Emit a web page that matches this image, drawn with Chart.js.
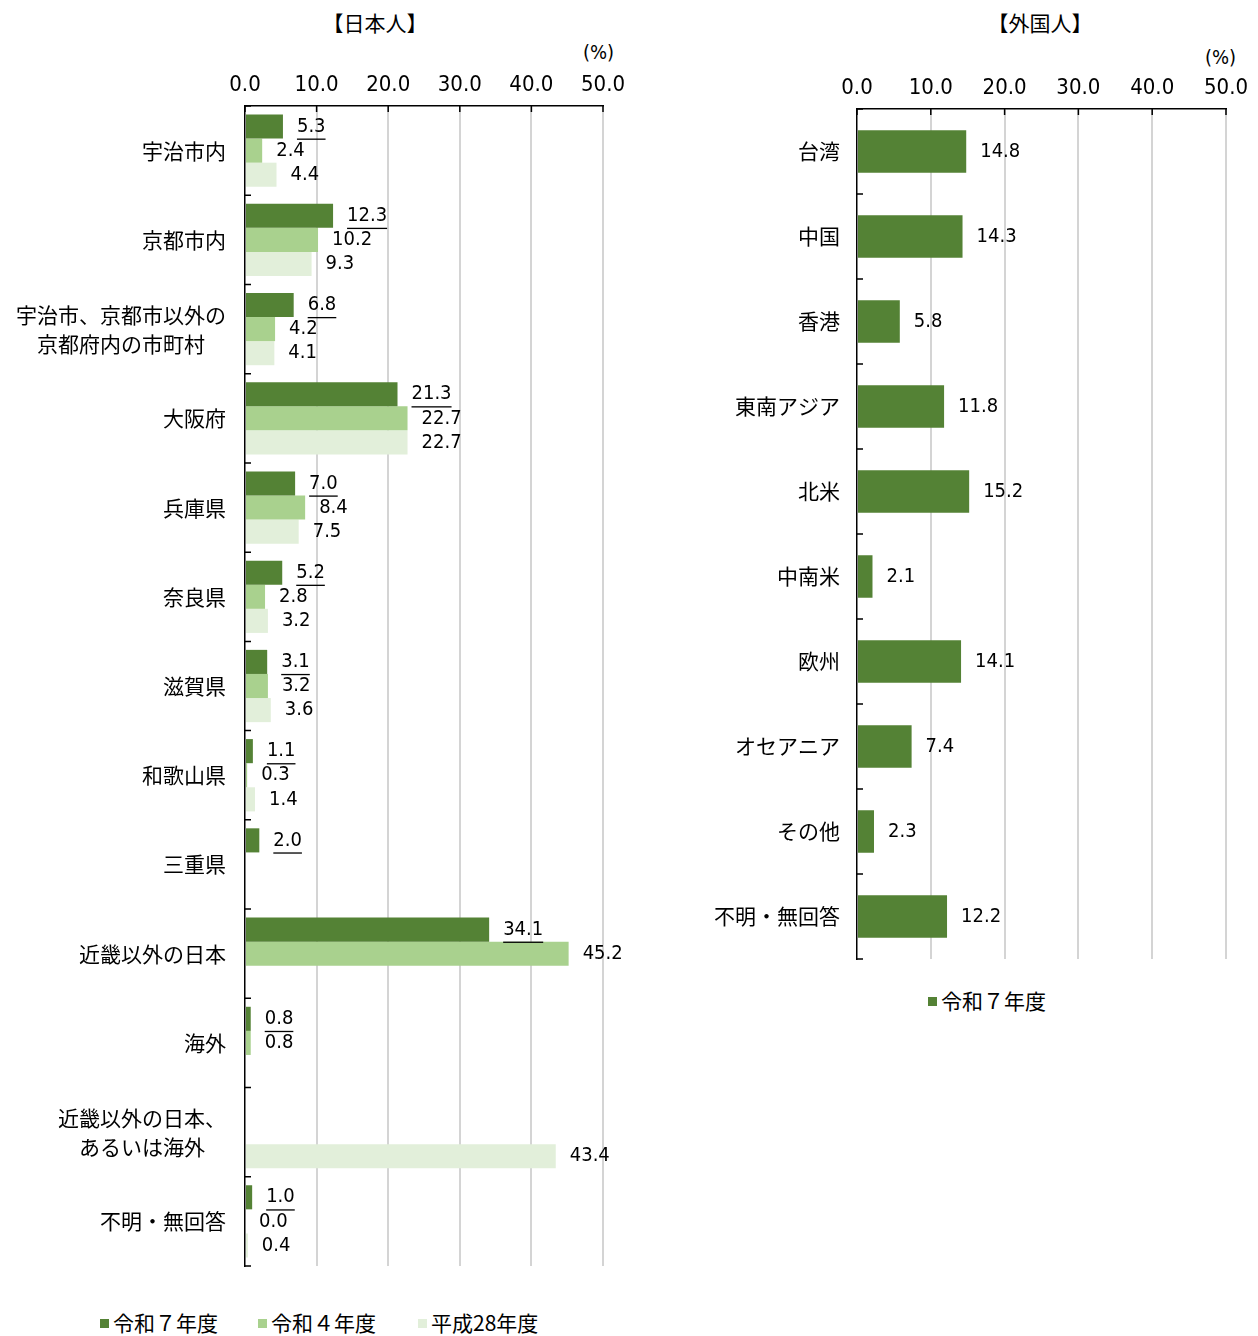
<!DOCTYPE html>
<html lang="ja">
<head>
<meta charset="utf-8">
<script src="https://cdn.jsdelivr.net/npm/chart.js@4.4.1/dist/chart.umd.min.js"></script>
<style>
body { margin:0; background:#fff; width:1258px; height:1336px; position:relative; overflow:hidden; font-family:'Noto Sans CJK JP', sans-serif; color:#000; }
.wrap { position:absolute; }
.ttl { position:absolute; font-size:21px; white-space:nowrap; transform:translate(-50%,-50%); }
.unit { position:absolute; font-size:20px; white-space:nowrap; transform:translateY(-50%); font-family:'Liberation Sans Narrow','DejaVu Sans Condensed','Noto Sans CJK JP',sans-serif; }
.legend { position:absolute; font-size:21px; white-space:nowrap; }
.legend span.item { position:absolute; transform:translateY(-50%); }
.legend i { display:inline-block; width:9px; height:9px; margin-right:4px; vertical-align:middle; position:relative; top:-2px; }
</style>
</head>
<body>
<div class="ttl" style="left:375px; top:22px;">【日本人】</div>
<div class="ttl" style="left:1040px; top:22px;">【外国人】</div>
<div class="unit" style="left:583px; top:52px;">(%)</div>
<div class="unit" style="left:1205px; top:57px;">(%)</div>

<div class="wrap" style="left:0; top:0; width:640px; height:1280px;"><canvas id="jpChart"></canvas></div>
<div class="wrap" style="left:710px; top:0; width:548px; height:972px;"><canvas id="fgChart"></canvas></div>

<div class="legend">
  <span class="item" style="left:100px; top:1322px;"><i style="background:#548235"></i>令和７年度</span>
  <span class="item" style="left:258px; top:1322px;"><i style="background:#A9D18E"></i>令和４年度</span>
  <span class="item" style="left:418px; top:1322px;"><i style="background:#E2EFDA"></i>平成28年度</span>
  <span class="item" style="left:928px; top:1000px;"><i style="background:#548235"></i>令和７年度</span>
</div>

<script>
// 日本人
const jpCategories = ['宇治市内', '京都市内', ['宇治市、京都市以外の', '京都府内の市町村'], '大阪府', '兵庫県', '奈良県', '滋賀県', '和歌山県', '三重県', '近畿以外の日本', '海外', ['近畿以外の日本、', 'あるいは海外'], '不明・無回答'];
const jpR7 = [5.3, 12.3, 6.8, 21.3, 7.0, 5.2, 3.1, 1.1, 2.0, 34.1, 0.8, null, 1.0];
const jpR4 = [2.4, 10.2, 4.2, 22.7, 8.4, 2.8, 3.2, 0.3, null, 45.2, 0.8, null, 0.0];
const jpH28 = [4.4, 9.3, 4.1, 22.7, 7.5, 3.2, 3.6, 1.4, null, null, null, 43.4, 0.4];

// 外国人
const fgCategories = ['台湾', '中国', '香港', '東南アジア', '北米', '中南米', '欧州', 'オセアニア', 'その他', '不明・無回答'];
const fgR7 = [14.8, 14.3, 5.8, 11.8, 15.2, 2.1, 14.1, 7.4, 2.3, 12.2];

const xTicks = [0, 10, 20, 30, 40, 50];
const seriesNames = ['令和７年度', '令和４年度', '平成28年度'];

const NUM_FONT = "'Liberation Sans Narrow', 'DejaVu Sans Condensed', 'Noto Sans CJK JP', sans-serif";
const JP_FONT = "'Noto Sans CJK JP', sans-serif";

const valueLabels = {
	id: 'valueLabels',
	afterDatasetsDraw(chart, args, opts) {
		const ctx = chart.ctx;
		ctx.save();
		ctx.font = '20px ' + NUM_FONT;
		ctx.fillStyle = '#000';
		ctx.textBaseline = 'middle';
		ctx.textAlign = 'left';
		chart.data.datasets.forEach((ds, di) => {
			const meta = chart.getDatasetMeta(di);
			meta.data.forEach((bar, i) => {
				const v = ds.data[i];
				if (v === null || v === undefined) return;
				const txt = v.toFixed(1);
				const x = bar.x + opts.offset;
				ctx.fillText(txt, x, bar.y);
				if (di === opts.underline) {
					const w = ctx.measureText(txt).width;
					ctx.fillRect(x, bar.y + 12, w, 1.3);
				}
			});
		});
		ctx.restore();
	}
};

const axisDecor = {
	id: 'axisDecor',
	afterDraw(chart, args, opts) {
		const ctx = chart.ctx, a = chart.chartArea;
		const xs = chart.scales.x, ys = chart.scales.y;
		const n = chart.data.labels.length;
		const step = (a.bottom - a.top) / n;
		ctx.save();
		ctx.strokeStyle = '#000';
		ctx.lineWidth = 1.5;
		ctx.beginPath();
		xs.ticks.forEach((t, i) => {
			const px = xs.getPixelForTick(i);
			ctx.moveTo(px, a.top);
			ctx.lineTo(px, a.top + 6);
		});
		for (let i = 0; i <= n; i++) {
			const py = a.top + step * i;
			ctx.moveTo(a.left, py);
			ctx.lineTo(a.left + 6, py);
		}
		ctx.stroke();

		// category labels, lines centred inside a right-aligned block
		ctx.font = '21px ' + JP_FONT;
		ctx.fillStyle = '#000';
		ctx.textBaseline = 'middle';
		ctx.textAlign = 'center';
		chart.data.labels.forEach((lab, i) => {
			const lines = Array.isArray(lab) ? lab : [lab];
			const cy = ys.getPixelForValue(i);
			const maxW = Math.max(...lines.map(l => ctx.measureText(l).width));
			const cx = a.left - opts.gap - maxW / 2;
			lines.forEach((l, k) => {
				ctx.fillText(l, cx, cy + (k - (lines.length - 1) / 2) * 29);
			});
		});
		ctx.restore();
	}
};

function makeOptions(axisTop, yWidth, gap, underline, padRight, padBottom) {
	return {
		indexAxis: 'y',
		responsive: true,
		maintainAspectRatio: false,
		animation: false,
		layout: { padding: { top: 0, left: 0, right: padRight, bottom: padBottom } },
		plugins: {
			legend: { display: false },
			tooltip: { enabled: false },
			valueLabels: { offset: 14, underline: underline },
			axisDecor: { gap: gap }
		},
		scales: {
			x: {
				position: 'top',
				min: 0,
				max: 50,
				afterBuildTicks(s) { s.ticks = xTicks.map(v => ({ value: v })); },
				ticks: {
					callback: v => Number(v).toFixed(1),
					font: { family: NUM_FONT, size: 22 },
					color: '#000',
					padding: 8,
					maxRotation: 0
				},
				grid: {
					color: c => (c.tick && c.tick.value === 0) ? 'rgba(0,0,0,0)' : '#d4d4d4',
					lineWidth: 2,
					drawTicks: false
				},
				border: { color: '#000', width: 1.5 },
				afterFit(s) { s.height = axisTop; }
			},
			y: {
				ticks: { display: false },
				grid: { display: false, drawTicks: false },
				border: { color: '#000', width: 1.5 },
				afterFit(s) { s.width = yWidth; }
			}
		}
	};
}

new Chart(document.getElementById('jpChart').getContext('2d'), {
	type: 'bar',
	data: {
		labels: jpCategories,
		datasets: [
			{ label: seriesNames[0], data: jpR7, backgroundColor: '#548235', categoryPercentage: 0.81, barPercentage: 1 },
			{ label: seriesNames[1], data: jpR4, backgroundColor: '#A9D18E', categoryPercentage: 0.81, barPercentage: 1 },
			{ label: seriesNames[2], data: jpH28, backgroundColor: '#E2EFDA', categoryPercentage: 0.81, barPercentage: 1 }
		]
	},
	options: makeOptions(106, 245, 19, 0, 37, 14),
	plugins: [valueLabels, axisDecor]
});

new Chart(document.getElementById('fgChart').getContext('2d'), {
	type: 'bar',
	data: {
		labels: fgCategories,
		datasets: [
			{ label: seriesNames[0], data: fgR7, backgroundColor: '#548235', categoryPercentage: 0.5, barPercentage: 1 }
		]
	},
	options: makeOptions(109, 147, 17, -1, 32, 13),
	plugins: [valueLabels, axisDecor]
});
</script>
</body>
</html>
